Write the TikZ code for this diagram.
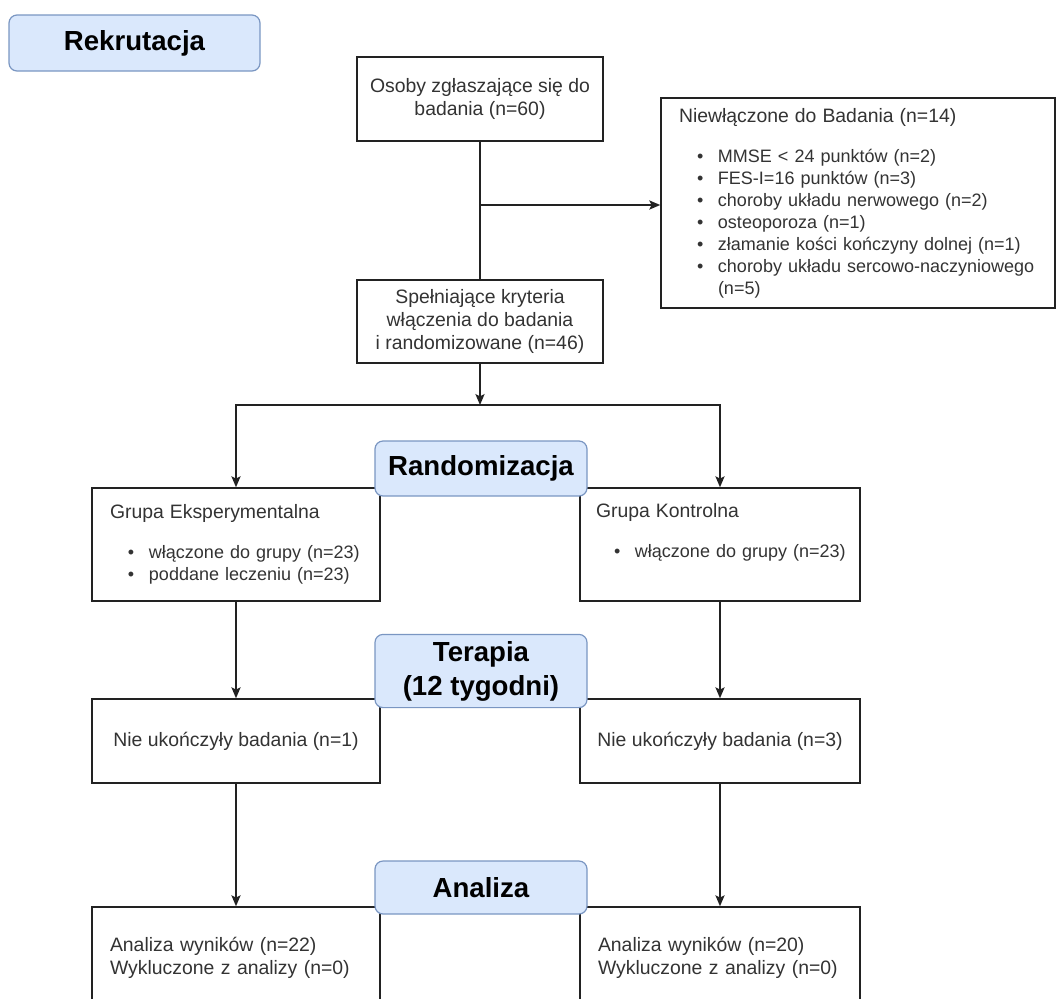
\documentclass[tikz,border=0pt]{standalone}
\usepackage{fontspec}
\setmainfont{Liberation Sans}
\usetikzlibrary{arrows.meta,positioning}
\definecolor{phaseFill}{RGB}{218,232,252}
\definecolor{phaseLine}{RGB}{122,150,194}
\definecolor{lineCol}{RGB}{34,34,34}
\definecolor{txtCol}{RGB}{51,51,51}
\newcommand{\bodysize}{\fontsize{9.7pt}{11.5pt}\selectfont}
\newcommand{\listsize}{\fontsize{9pt}{11pt}\selectfont}
\newcommand{\itm}[1]{\mbox{\hspace*{9pt}\makebox[10.5pt][l]{\textbullet}#1}}
\tikzset{
  box/.style={draw=lineCol,line width=0.75pt,fill=white,text=txtCol,
              font=\bodysize,align=center,inner sep=0pt},
  listbox/.style={box,font=\listsize,align=left,inner xsep=9pt},
  phase/.style={draw=phaseLine,line width=0.6pt,fill=phaseFill,rounded corners=4pt,
                align=center,text=black,minimum width=106pt,
                font=\fontsize{13.8pt}{17pt}\selectfont\bfseries},
  flow/.style={-{Stealth[length=5.5pt,width=4.6pt,inset=1.2pt]},line width=0.75pt,draw=lineCol},
  link/.style={line width=0.75pt,draw=lineCol},
}

\begin{document}
\begin{tikzpicture}[x=0.5pt,y=-0.5pt]
    \useasboundingbox (0,0) rectangle (1057,998);
    \clip (0,0) rectangle (1057,998);
    \node[box,minimum width=123pt,minimum height=42pt] (osoby) at (480,99)
      {Osoby zgłaszające się do\\badania (n=60)};
    \node[listbox,text width=179pt,minimum height=105pt] (niew) at (858,203)
      {{\bodysize Niewłączone do Badania (n=14)}\\[9pt]
       \itm{MMSE < 24 punktów (n=2)}\\
       \itm{FES-I=16 punktów (n=3)}\\
       \itm{choroby układu nerwowego (n=2)}\\
       \itm{osteoporoza (n=1)}\\
       \itm{złamanie kości kończyny dolnej (n=1)}\\
       \itm{choroby układu sercowo-naczyniowego}\\
       \hspace*{19.5pt}(n=5)};
    \node[box,minimum width=123pt,minimum height=41.5pt] (spel) at (480,321.5)
      {Spełniające kryteria\\włączenia do badania\\i randomizowane (n=46)};
    \node[listbox,text width=126pt,minimum height=56.5pt] (eksp) at (236,544.5)
      {{\bodysize Grupa Eksperymentalna}\\[9pt]
       \itm{włączone do grupy (n=23)}\\
       \itm{poddane leczeniu (n=23)}};
    \node[listbox,text width=124pt,inner xsep=8pt,minimum height=56.5pt] (kontr) at (720,544.5)
      {{\bodysize Grupa Kontrolna}\\[9pt]
       \itm{włączone do grupy (n=23)}\\
       \strut};
    \node[box,minimum width=144pt,minimum height=42pt] (nie1) at (236,741)
      {Nie ukończyły badania (n=1)};
    \node[box,minimum width=140pt,minimum height=42pt] (nie2) at (720,741)
      {Nie ukończyły badania (n=3)};
    \node[listbox,font=\bodysize,text width=126pt,minimum height=51pt] (wyn1) at (236,958)
      {Analiza wyników (n=22)\\Wykluczone z analizy (n=0)};
    \node[listbox,font=\bodysize,text width=122pt,minimum height=51pt] (wyn2) at (720,958)
      {Analiza wyników (n=20)\\Wykluczone z analizy (n=0)};

    \coordinate (cut) at (480,205);
    \coordinate (split) at (480,405);
    \draw[link] (osoby) -- (spel);
    \draw[flow] (cut) -- (cut -| niew.west);
    \draw[flow] (spel) -- (split);
    \draw[flow] (split) -| (eksp.north);
    \draw[flow] (split) -| (kontr.north);
    \draw[flow] (eksp) -- (nie1); \draw[flow] (kontr) -- (nie2);
    \draw[flow] (nie1) -- (wyn1); \draw[flow] (nie2) -- (wyn2);

    \node[phase,minimum width=125.5pt,minimum height=28pt] (rek) at (134.5,43) {Rekrutacja};
    \node[phase,minimum height=27.5pt] (rand) at (481,468.5) {Randomizacja};
    \node[phase,minimum height=34pt] (ter) at (481,671) {Terapia\\(12 tygodni)};
    \node[phase,minimum height=26.5pt] (anal) at (481,887.5) {Analiza};
  \end{tikzpicture}
\end{document}
